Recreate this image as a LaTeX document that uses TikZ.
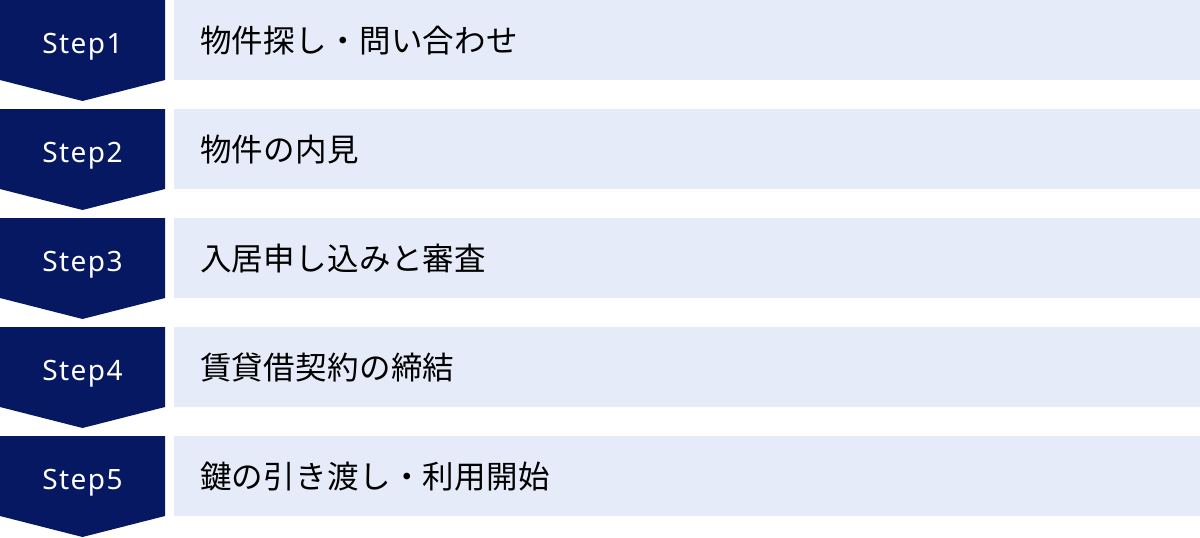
\documentclass[tikz,border=0pt]{standalone}
\usepackage{fontspec}
\setmainfont{Noto Sans}
\newfontfamily\jpfont{Noto Sans CJK JP}
\definecolor{navy}{HTML}{061861}
\definecolor{pale}{HTML}{E5EBF8}
\tikzset{
  stepshape/.style={fill=navy, draw=none},
  panel/.style={fill=pale, draw=none},
  steplabel/.style={text=white, font=\fontsize{28}{28}\selectfont, anchor=base, inner sep=0pt},
  tasklabel/.style={text=black, font=\jpfont\fontsize{31.5}{31.5}\selectfont, anchor=base west, inner sep=0pt},
}
\begin{document}
\begin{tikzpicture}[x=1pt,y=-1pt]
\useasboundingbox (0,0) rectangle (1200,538);
\foreach \i/\lab/\task in {1/Step1/物件探し・問い合わせ, 2/Step2/物件の内見, 3/Step3/入居申し込みと審査, 4/Step4/賃貸借契約の締結, 5/Step5/鍵の引き渡し・利用開始}{
  \pgfmathsetmacro{\t}{109*(\i-1)}
  \fill[stepshape] (0,\t) -- (165,\t) -- (165,\t+80) -- (82.5,\t+101) -- (0,\t+80) -- cycle;
  \fill[panel] (174,\t) rectangle (1200,\t+80);
  \node[steplabel] (s\i) at (82.5,\t+53) {\addfontfeatures{LetterSpace=5}\lab};
  \node[tasklabel] (t\i) at (200,\t+52.5) {\addfontfeatures{LetterSpace=1}\task};
}
\end{tikzpicture}
\end{document}
